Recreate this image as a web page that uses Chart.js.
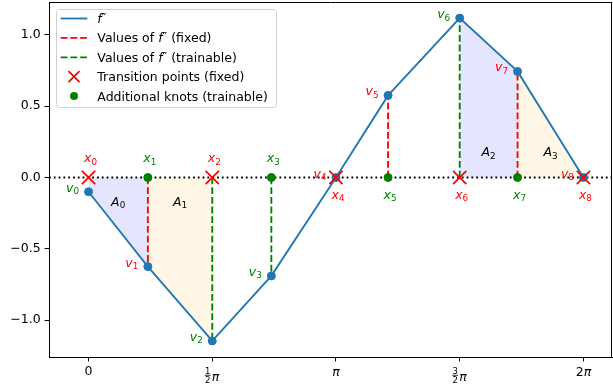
<!DOCTYPE html>
<html><head><meta charset="utf-8">
<script src="https://cdn.jsdelivr.net/npm/chart.js@4.4.0/dist/chart.umd.min.js"></script>
<style>html,body{margin:0;padding:0;background:#fff}#wrap{width:613px;height:385px}</style>
</head><body><div id="wrap"><canvas id="c" width="613" height="385"></canvas></div>
<script>
const PI = Math.PI;
// knot positions and values of f''
const knotX = [0, 0.753, PI/2, 2.321, PI, 3.803, 3*PI/2, 5.447, 2*PI];
const knotV = [-0.10, -0.625, -1.146, -0.69, 0.0, 0.576, 1.118, 0.744, 0.0];
const fixedIdx = [0, 2, 4, 6, 8];       // transition points (fixed)
const trainIdx = [1, 3, 5, 7];          // additional knots (trainable)
const redDashIdx = [1, 5, 7];           // values of f'' (fixed)
const greenDashIdx = [2, 3, 6];         // values of f'' (trainable)
const xTickValues = [0, PI/2, PI, 3*PI/2, 2*PI];
const xTickLabels = ['0', '½π', 'π', '³⁄₂π', '2π'];
const xTickFrac = [null, ['1','2'], null, ['3','2'], null];
const xTickCoef = [null, null, '', null, '2'];
const yTickValues = [-1.0, -0.5, 0.0, 0.5, 1.0];
const areaSpans = [[0, 1], [1, 2], [6, 7], [7, 8]];
const areaNames = ['0', '1', '2', '3'];
const vLabelColors = ['green','red','green','green','red','red','green','red','red'];
const xLabelColors = ['red','green','red','green','red','green','red','green','red'];
const legendLabels = ['f″', 'Values of f″ (fixed)', 'Values of f″ (trainable)', 'Transition points (fixed)', 'Additional knots (trainable)'];

const X_MIN = -0.502, X_MAX = 6.646, Y_MIN = -1.259, Y_MAX = 1.231;
const BLUE = '#1f77b4';
const FONT = '"DejaVu Sans"';
const FS = 12.5;
const LW = 1.85;
const DASH = [6.8, 2.9];

const pts = idx => idx.map(i => ({x: knotX[i], y: knotV[i]}));
const axisPts = idx => idx.map(i => ({x: knotX[i], y: 0}));
function dashData(idx) {
  const d = [];
  idx.forEach(i => { d.push({x: knotX[i], y: 0}); d.push({x: knotX[i], y: knotV[i]}); d.push({x: knotX[i], y: null}); });
  return d;
}

const datasets = [];
areaSpans.forEach((s, k) => {
  datasets.push({
    data: pts(s), fill: 'origin', borderWidth: 0, pointRadius: 0,
    backgroundColor: k % 2 === 0 ? 'rgba(0,0,255,0.1)' : 'rgba(255,165,0,0.1)',
    borderColor: 'rgba(0,0,0,0)', order: 10
  });
});
datasets.push({ data: [{x: X_MIN, y: 0}, {x: X_MAX, y: 0}], borderColor: '#000', borderWidth: LW,
  borderDash: [1.8, 3.0], pointRadius: 0, fill: false, order: 8 });
datasets.push({ data: dashData(redDashIdx), borderColor: 'red', borderWidth: LW, borderDash: DASH,
  pointRadius: 0, spanGaps: false, fill: false, order: 6 });
datasets.push({ data: dashData(greenDashIdx), borderColor: 'green', borderWidth: LW, borderDash: DASH,
  pointRadius: 0, spanGaps: false, fill: false, order: 6 });
datasets.push({ data: pts(knotX.map((_, i) => i)), borderColor: BLUE, borderWidth: LW, pointRadius: 4,
  pointStyle: 'circle', pointBackgroundColor: BLUE, pointBorderColor: BLUE, pointBorderWidth: 1, fill: false, order: 4 });
datasets.push({ data: axisPts(trainIdx), showLine: false, pointRadius: 4, pointStyle: 'circle', pointBackgroundColor: 'green',
  pointBorderColor: 'green', pointBorderWidth: 1, order: 2 });
datasets.push({ data: axisPts(fixedIdx), showLine: false, pointStyle: 'crossRot', pointRadius: 9.4,
  pointBorderColor: 'red', pointBorderWidth: 1.7, order: 1 });

function drawRich(ctx, segs, x, y, center) {
  let w = 0;
  segs.forEach(s => { ctx.font = (s.it ? 'italic ' : '') + s.size + 'px ' + FONT; s.w = ctx.measureText(s.t).width; w += s.w; });
  let cx = center ? x - w / 2 : x;
  ctx.textAlign = 'left'; ctx.textBaseline = 'alphabetic';
  segs.forEach(s => {
    ctx.font = (s.it ? 'italic ' : '') + s.size + 'px ' + FONT;
    ctx.fillStyle = s.color;
    ctx.fillText(s.t, cx, y + (s.dy || 0));
    cx += s.w;
  });
}
function subLabel(ctx, base, sub, cx, cy, color) {
  drawRich(ctx, [{t: base, it: true, size: FS, color}, {t: sub, size: 8.8, dy: 2.5, color}], cx, cy + 3.5, true);
}

const annot = {
  id: 'annot',
  afterDatasetsDraw(chart) {
    const ctx = chart.ctx, xs = chart.scales.x, ys = chart.scales.y;
    ctx.save();
    areaSpans.forEach((s, k) => {
      const mx = (knotX[s[0]] + knotX[s[1]]) / 2;
      const sign = (knotV[s[0]] + knotV[s[1]]) < 0 ? -1 : 1;
      const px = xs.getPixelForValue(mx), py = ys.getPixelForValue(sign * 0.175);
      subLabel(ctx, 'A', areaNames[k], px, py, '#000');
    });
    knotX.forEach((xv, i) => {
      const px = xs.getPixelForValue(xv), p0 = ys.getPixelForValue(0), pv = ys.getPixelForValue(knotV[i]);
      const above = i < 4;
      subLabel(ctx, 'x', String(i), px + 2, above ? p0 - 19 : p0 + 17.5, xLabelColors[i]);
      subLabel(ctx, 'v', String(i), px - 16, pv - 3.5, vLabelColors[i]);
    });
    ctx.restore();
  },
  afterDraw(chart) {
    const ctx = chart.ctx, xs = chart.scales.x, ca = chart.chartArea;
    ctx.save();
    ctx.strokeStyle = '#000'; ctx.lineWidth = 1;
    ctx.beginPath();
    ctx.moveTo(ca.left, ca.top + 0.5); ctx.lineTo(ca.right, ca.top + 0.5);
    ctx.moveTo(ca.right - 0.5, ca.top); ctx.lineTo(ca.right - 0.5, ca.bottom);
    ctx.stroke();
    xTickValues.forEach((v, i) => {
      const px = xs.getPixelForValue(v);
      const fr = xTickFrac[i];
      if (fr) {
        ctx.fillStyle = '#000'; ctx.textAlign = 'center'; ctx.textBaseline = 'alphabetic';
        ctx.font = '8.5px ' + FONT;
        ctx.fillText(fr[0], px - 4.5, 373.5);
        ctx.fillText(fr[1], px - 4.5, 383);
        ctx.fillRect(px - 7.5, 374.8, 6, 0.8);
        ctx.font = 'italic ' + FS + 'px ' + FONT; ctx.textAlign = 'left';
        ctx.fillText('π', px - 0.5, 381);
      } else if (xTickCoef[i] !== null) {
        drawRich(ctx, [{t: xTickCoef[i], size: FS, color: '#000'}, {t: 'π', it: true, size: FS, color: '#000'}], px, 376, true);
      }
    });
    // legend
    const L = 56.5, T = 9.5, W = 220, H = 98, r = 3;
    ctx.beginPath();
    ctx.moveTo(L + r, T); ctx.lineTo(L + W - r, T); ctx.arcTo(L + W, T, L + W, T + r, r);
    ctx.lineTo(L + W, T + H - r); ctx.arcTo(L + W, T + H, L + W - r, T + H, r);
    ctx.lineTo(L + r, T + H); ctx.arcTo(L, T + H, L, T + H - r, r);
    ctx.lineTo(L, T + r); ctx.arcTo(L, T, L + r, T, r); ctx.closePath();
    ctx.fillStyle = 'rgba(255,255,255,0.8)'; ctx.fill();
    ctx.strokeStyle = '#d0d0d0'; ctx.lineWidth = 1; ctx.stroke();
    const rowY = i => 18.5 + i * 19.4;
    const sx0 = 60.7, sx1 = 87.3, mx = 74, tx = 97.3;
    ctx.lineWidth = LW;
    ctx.strokeStyle = BLUE; ctx.setLineDash([]);
    ctx.beginPath(); ctx.moveTo(sx0, rowY(0)); ctx.lineTo(sx1, rowY(0)); ctx.stroke();
    ctx.setLineDash(DASH);
    ctx.strokeStyle = 'red'; ctx.beginPath(); ctx.moveTo(sx0, rowY(1)); ctx.lineTo(sx1, rowY(1)); ctx.stroke();
    ctx.strokeStyle = 'green'; ctx.beginPath(); ctx.moveTo(sx0, rowY(2)); ctx.lineTo(sx1, rowY(2)); ctx.stroke();
    ctx.setLineDash([]);
    ctx.strokeStyle = 'red'; ctx.lineWidth = 1.7;
    const h = 5.5, y3 = rowY(3);
    ctx.beginPath(); ctx.moveTo(mx - h, y3 - h); ctx.lineTo(mx + h, y3 + h); ctx.moveTo(mx + h, y3 - h); ctx.lineTo(mx - h, y3 + h); ctx.stroke();
    ctx.fillStyle = 'green'; ctx.beginPath(); ctx.arc(mx, rowY(4), 4, 0, 2 * PI); ctx.fill();
    const c = '#000';
    const fpp = () => [{t: 'f', it: true, size: FS, color: c}, {t: '″', size: FS, color: c, dy: -1}];
    drawRich(ctx, fpp(), tx, rowY(0) + 4.5, false);
    drawRich(ctx, [{t: 'Values of ', size: FS, color: c}, ...fpp(), {t: ' (fixed)', size: FS, color: c}], tx, rowY(1) + 4.5, false);
    drawRich(ctx, [{t: 'Values of ', size: FS, color: c}, ...fpp(), {t: ' (trainable)', size: FS, color: c}], tx, rowY(2) + 4.5, false);
    drawRich(ctx, [{t: legendLabels[3], size: FS, color: c}], tx, rowY(3) + 4.5, false);
    drawRich(ctx, [{t: legendLabels[4], size: FS, color: c}], tx, rowY(4) + 4.5, false);
    ctx.restore();
  }
};

new Chart(document.getElementById('c'), {
  type: 'line',
  data: { datasets },
  plugins: [annot],
  options: {
    responsive: false, animation: false, devicePixelRatio: 1,
    layout: { autoPadding: false, padding: { top: 2, right: 1, left: 0, bottom: 0 } },
    plugins: { legend: { display: false }, tooltip: { enabled: false } },
    elements: { line: { tension: 0 } },
    scales: {
      x: {
        type: 'linear', min: X_MIN, max: X_MAX,
        afterBuildTicks: s => { s.ticks = xTickValues.map(v => ({value: v})); },
        afterFit: s => { s.height = 28; s.paddingLeft = 0; s.paddingRight = 0; },
        ticks: {
          autoSkip: false, maxRotation: 0, padding: 3, color: '#000',
          font: { family: 'DejaVu Sans', size: FS },
          callback: (v, i) => i === 0 ? xTickLabels[i] : ''
        },
        grid: { display: true, drawOnChartArea: false, drawTicks: true, tickLength: 4.4, tickColor: '#000', tickWidth: 1 },
        border: { display: true, color: '#000', width: 1 }
      },
      y: {
        type: 'linear', min: Y_MIN, max: Y_MAX,
        afterBuildTicks: s => { s.ticks = yTickValues.map(v => ({value: v})); },
        afterFit: s => { s.width = 49; s.paddingTop = 0; s.paddingBottom = 0; },
        ticks: {
          padding: 4, color: '#000', font: { family: 'DejaVu Sans', size: FS },
          callback: v => (v < 0 ? '−' : '') + Math.abs(v).toFixed(1)
        },
        grid: { display: true, drawOnChartArea: false, drawTicks: true, tickLength: 4.4, tickColor: '#000', tickWidth: 1 },
        border: { display: true, color: '#000', width: 1 }
      }
    }
  }
});
</script></body></html>
